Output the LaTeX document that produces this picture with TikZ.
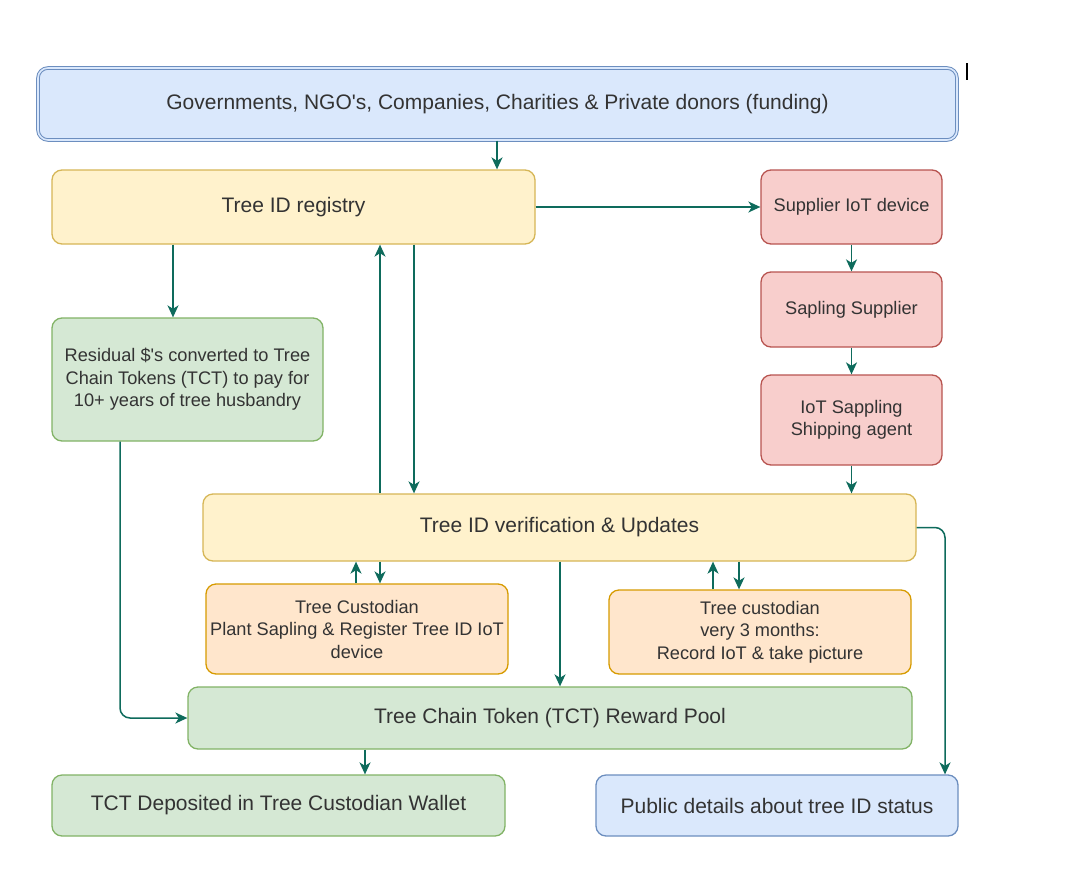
\documentclass[tikz,border=0pt]{standalone}
\usepackage{fontspec}
\setmainfont{Liberation Sans}[Ligatures=TeXOff]
\usetikzlibrary{arrows.meta}
\definecolor{arrc}{HTML}{0E6B5C}
\definecolor{txt}{HTML}{333333}
\definecolor{bluef}{HTML}{DAE8FC}\definecolor{blued}{HTML}{6C8EBF}
\definecolor{yelf}{HTML}{FFF2CC}\definecolor{yeld}{HTML}{D6B656}
\definecolor{redf}{HTML}{F8CECC}\definecolor{redd}{HTML}{B85450}
\definecolor{grnf}{HTML}{D5E8D4}\definecolor{grnd}{HTML}{82B366}
\definecolor{orgf}{HTML}{FFE6CC}\definecolor{orgd}{HTML}{D79B00}
\tikzset{
  box/.style={rounded corners=10pt, line width=1.3pt, align=center, text=txt, inner sep=2pt},
  bigtxt/.style={font=\fontsize{21}{25}\selectfont},
  smalltxt/.style={font=\fontsize{18.2}{22.5}\selectfont},
  bluebox/.style={box, fill=bluef, draw=blued},
  yelbox/.style={box, fill=yelf, draw=yeld},
  redbox/.style={box, fill=redf, draw=redd},
  grnbox/.style={box, fill=grnf, draw=grnd},
  orgbox/.style={box, fill=orgf, draw=orgd},
  arr/.style={draw=arrc, line width=1.5pt, -{Stealth[length=12pt,width=11pt,inset=3.5pt]}},
}
\begin{document}
\begin{tikzpicture}[x=1pt,y=-1pt]
\useasboundingbox (0,0) rectangle (1086,878);
\fill[white] (0,0) rectangle (1086,878);
% nodes
\node[bluebox, bigtxt, double=bluef, double distance=1.6pt, line width=1pt, minimum width=919pt, minimum height=72pt] (gov) at (497.5,104) {Governments, NGO's, Companies, Charities \& Private donors (funding)};
\node[yelbox, bigtxt, minimum width=483pt, minimum height=74pt] (reg) at (293.5,207) {Tree ID registry};
\node[redbox, smalltxt, minimum width=181pt, minimum height=74pt] (sup) at (851.5,207) {Supplier IoT device};
\node[redbox, smalltxt, minimum width=181pt, minimum height=75pt] (sap) at (851.5,309.5) {Sapling Supplier};
\node[redbox, smalltxt, minimum width=181pt, minimum height=90pt] (ship) at (851.5,420) {IoT Sappling\\Shipping agent};
\node[grnbox, smalltxt, minimum width=271pt, minimum height=123pt] (res) at (187.5,379.5) {Residual \$'s converted to Tree\\Chain Tokens (TCT) to pay for\\10+ years of tree husbandry};
\node[yelbox, bigtxt, minimum width=713pt, minimum height=67pt] (ver) at (559.5,527.5) {Tree ID verification \& Updates};
\node[orgbox, smalltxt, minimum width=302pt, minimum height=90pt] (cpl) at (357,629) {Tree Custodian\\Plant Sapling \& Register Tree ID IoT\\device};
\node[orgbox, smalltxt, minimum width=302pt, minimum height=84pt] (c3) at (760,632) {Tree custodian\\very 3 months:\\Record IoT \& take picture};
\node[grnbox, bigtxt, minimum width=724pt, minimum height=62pt] (pool) at (550,718) {Tree Chain Token (TCT) Reward Pool};
\node[grnbox, bigtxt, minimum width=453pt, minimum height=61pt] (tct) at (278.5,805.5) {TCT Deposited in Tree Custodian Wallet};
\node[bluebox, bigtxt, minimum width=362pt, minimum height=61pt] (pub) at (777,805.5) {Public details about tree ID status};
% column coordinates
\coordinate (c120) at (120,0);
\coordinate (c173) at (173,0);
\coordinate (c356) at (356,0);
\coordinate (c365) at (365,0);
\coordinate (c380) at (380,0);
\coordinate (c414) at (414,0);
\coordinate (c497) at (497,0);
\coordinate (c560) at (560,0);
\coordinate (c713) at (713,0);
\coordinate (c739) at (739,0);
\coordinate (c945) at (945,0);
% connectors
\draw[arr] (gov.south -| c497) -- (reg.north -| c497);
\draw[arr] (reg.east) -- (sup.west);
\draw[arr] (sup.south) -- (sap.north);
\draw[arr] (sap.south) -- (ship.north);
\draw[arr] (ship.south) -- (ver.north -| ship.south);
\draw[arr] (reg.south -| c173) -- (res.north -| c173);
\draw[arr] (reg.south -| c414) -- (ver.north -| c414);
\draw[arr] (ver.north -| c380) -- (reg.south -| c380);
\draw[arr] (cpl.north -| c356) -- (ver.south -| c356);
\draw[arr] (ver.south -| c380) -- (cpl.north -| c380);
\draw[arr] (c3.north -| c713) -- (ver.south -| c713);
\draw[arr] (ver.south -| c739) -- (c3.north -| c739);
\draw[arr] (ver.south -| c560) -- (pool.north -| c560);
\draw[arr] (pool.south -| c365) -- (tct.north -| c365);
\draw[arr, rounded corners=10pt] (res.south -| c120) |- (pool.west);
\draw[arr, rounded corners=10pt] (ver.east) -| (c945 |- pub.north);
% stray cursor mark
\draw[black, line width=1.2pt] (967,63) -- (967,80);
\end{tikzpicture}
\end{document}
